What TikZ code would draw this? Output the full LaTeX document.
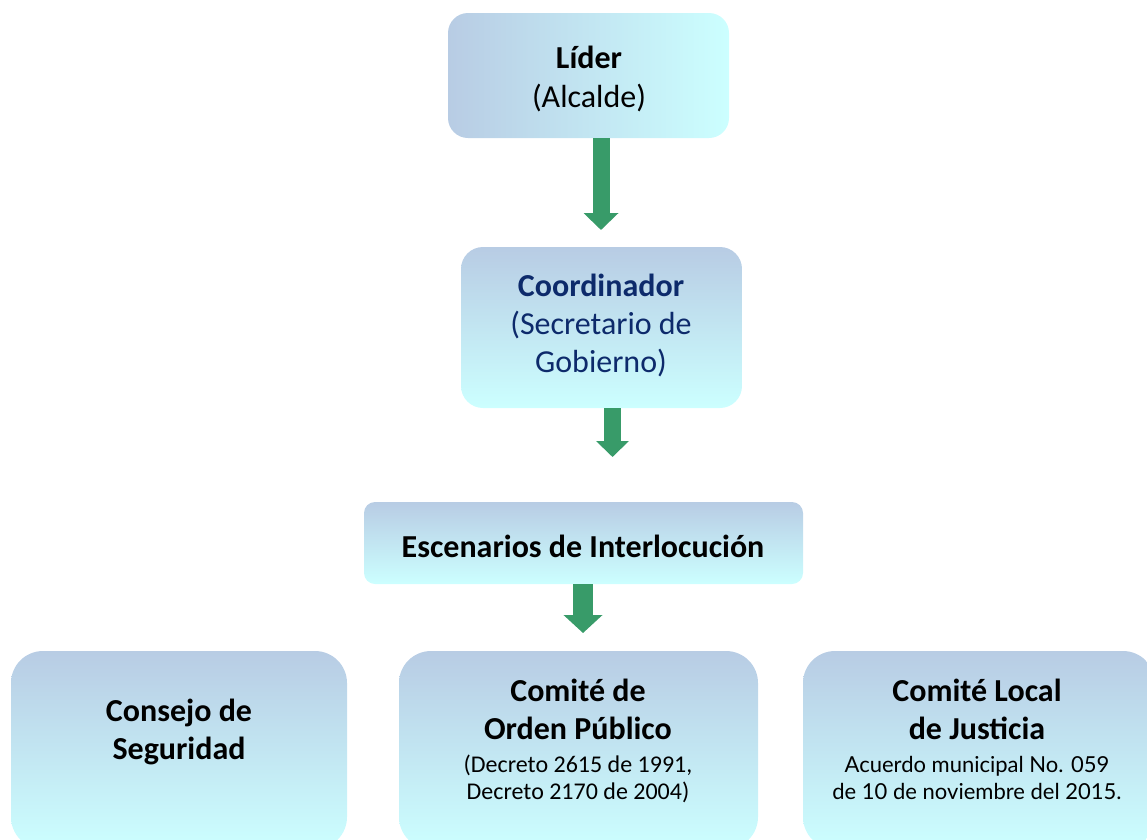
\documentclass[tikz,border=0pt]{standalone}
\usepackage{fontspec}
\setmainfont{Carlito}
\newfontfamily\gillfont{Lato}
\usetikzlibrary{arrows.meta}
\definecolor{boxtop}{HTML}{B8CCE4}
\definecolor{boxbot}{HTML}{CCFFFF}
\definecolor{arrowgreen}{HTML}{389B69}
\definecolor{navy}{HTML}{0D2A6B}
\begin{document}
\begin{tikzpicture}[x=1pt,y=-1pt,
  basebox/.style={draw=none, inner sep=0pt, outer sep=0pt},
  vbox/.style={basebox, rounded corners=#1, top color=boxtop, bottom color=boxbot},
  hbox/.style={basebox, rounded corners=#1, left color=boxtop, right color=boxbot},
  garrow/.style={draw=arrowgreen, line width=#1},
  bigtext/.style={align=center, inner sep=0pt, font=\fontsize{32}{38}\selectfont},
  boldtext/.style={align=center, inner sep=0pt, font=\fontsize{32}{38}\selectfont\bfseries},
  smalltext/.style={align=center, inner sep=0pt, font=\fontsize{24}{26.5}\selectfont}
]
\useasboundingbox (0,0) rectangle (1147,839);
\clip (0,0) rectangle (1147,839);

% boxes
\node[hbox=20, minimum width=281, minimum height=125] (lider) at (588.5,75.5) {};
\node[vbox=22, minimum width=281, minimum height=161] (coord) at (601.5,327.5) {};
\node[vbox=11, minimum width=439, minimum height=82] (esc) at (583.5,543) {};
\node[vbox=32, minimum width=336, minimum height=198] (consejo) at (179,750) {};
\node[vbox=32, minimum width=359, minimum height=198] (orden) at (578.5,750) {};
\node[vbox=32, minimum width=352, minimum height=198] (local) at (979,750) {};

% arrows
\coordinate (a1) at (601,230);
\coordinate (a2) at (612.5,457);
\coordinate (a3) at (583,633);
\draw[garrow=17pt, -{Triangle[width=34pt,length=17pt]}] (lider.south -| a1) -- (a1);
\draw[garrow=17pt, -{Triangle[width=32pt,length=16pt]}] (coord.south -| a2) -- (a2);
\draw[garrow=20pt, -{Triangle[width=38pt,length=18pt]}] (esc.south -| a3) -- (a3);

% texts
\node[bigtext, font=\fontsize{32}{39}\selectfont] (tlider) at (589,79) {\textbf{Líder}\\(Alcalde)};
\node[bigtext, text=navy] (tcoord) at (601,325) {\textbf{Coordinador}\\(Secretario de\\Gobierno)};
\node[boldtext] (tesc) at (583,546) {Escenarios de Interlocución};
\node[boldtext] (tconsejo) at (179,732) {Consejo de\\Seguridad};
\node[boldtext] (torden) at (578,709.5) {Comité de\\Orden Público};
\node[smalltext] (tordennote) at (578,779) {(Decreto 2615 de 1991,\\Decreto 2170 de 2004)};
\node[boldtext] (tlocal) at (977,709.5) {Comité Local\\de Justicia};
\node[smalltext, font=\gillfont\fontsize{22}{26.5}\selectfont] (tlocalnote) at (977,778) {Acuerdo municipal No. 059\\de 10 de noviembre del 2015.};
\end{tikzpicture}
\end{document}
